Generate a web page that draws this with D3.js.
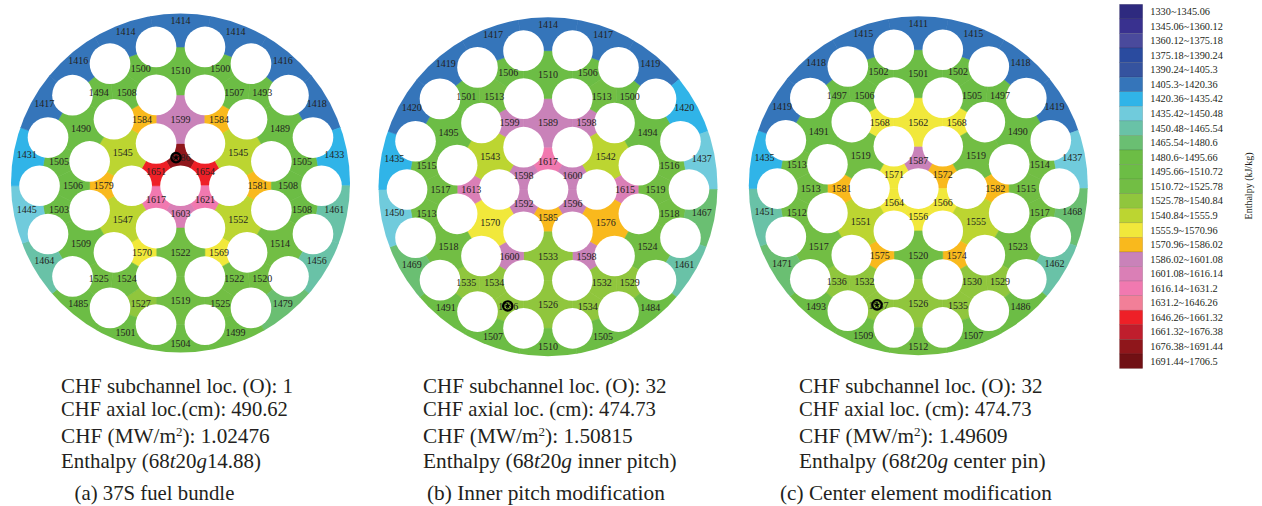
<!DOCTYPE html>
<html>
<head>
	<meta charset="utf-8">
	<title>Enthalpy in 37-element bundles</title>
	<style>
		body { margin: 0; background: #fff; }
		svg { display: block; font-family: "Liberation Serif", serif; fill: #231f20; }
	</style>
</head>
<body>
	<svg width="1262" height="506"></svg>
	<script src="https://cdn.jsdelivr.net/npm/d3@7"></script>
	<script>
		// subchannel enthalpy, each list runs clockwise from 12 o'clock
		// 1420.4 and 1570.9 print rounded but fall into the lower/upper bin like the picture
		const outerA = [1414, 1414, 1416, 1418, 1433, 1461, 1456, 1479, 1499, 1504, 1501, 1485, 1464, 1445, 1431, 1417, 1416, 1414]
		const gap3A = [1510, 1500, 1507, 1493, 1489, 1505, 1508, 1508, 1514, 1520, 1522, 1525, 1519, 1527, 1524, 1525, 1509, 1503, 1506, 1505, 1490, 1494, 1508, 1500]
		const gap2A = [1599, 1584, 1545, 1581, 1552, 1569, 1522, 1570, 1547, 1579, 1545, 1584]
		const innerA = [1686, 1654, 1621, 1603, 1617, 1651]

		const outerB = [1414, 1417, 1419, 1420.4, 1437, 1467, 1461, 1484, 1505, 1510, 1507, 1491, 1469, 1450, 1435, 1420, 1419, 1417]
		const gap3B = [1510, 1506, 1513, 1500, 1494, 1516, 1519, 1518, 1524, 1529, 1532, 1534, 1526, 1536, 1534, 1535, 1518, 1513, 1517, 1515, 1495, 1501, 1513, 1506]
		const gap2B = [1589, 1598, 1542, 1615, 1576, 1598, 1533, 1600, 1570, 1613, 1543, 1599]
		const innerB = [1617, 1600, 1596, 1585, 1592, 1598]

		const outerC = [1411, 1415, 1418, 1419, 1437, 1468, 1462, 1486, 1507, 1512, 1509, 1493, 1471, 1451, 1435, 1419, 1418, 1415]
		const gap3C = [1501, 1502, 1505, 1497, 1490, 1514, 1515, 1517, 1523, 1529, 1530, 1535, 1526, 1537, 1532, 1536, 1517, 1512, 1513, 1513, 1491, 1497, 1506, 1502]
		const gap2C = [1562, 1568, 1519, 1582, 1555, 1574, 1520, 1575, 1551, 1581, 1519, 1568]
		const innerC = [1587, 1572, 1566, 1556, 1564, 1570.9]

		const legendLabels = ["1330~1345.06", "1345.06~1360.12", "1360.12~1375.18", "1375.18~1390.24", "1390.24~1405.3",
			"1405.3~1420.36", "1420.36~1435.42", "1435.42~1450.48", "1450.48~1465.54", "1465.54~1480.6",
			"1480.6~1495.66", "1495.66~1510.72", "1510.72~1525.78", "1525.78~1540.84", "1540.84~1555.9",
			"1555.9~1570.96", "1570.96~1586.02", "1586.02~1601.08", "1601.08~1616.14", "1616.14~1631.2",
			"1631.2~1646.26", "1646.26~1661.32", "1661.32~1676.38", "1676.38~1691.44", "1691.44~1706.5"]
		const legendColors = ["#2e2a7f", "#39318f", "#4a4a9c", "#2a4b9f", "#35539f",
			"#3575ba", "#30b4e8", "#70cbdc", "#69c2a7", "#6abf72",
			"#6cbd45", "#6cbd45", "#72be44", "#90c63d", "#bcd531",
			"#f1e83b", "#f9b91d", "#c982b9", "#da7fb6", "#f179b0",
			"#f27f98", "#ee2027", "#bf1e2d", "#8f161b", "#711014"]

		const captionA = ["CHF subchannel loc. (O): 1", "CHF axial loc.(cm): 490.62", "CHF (MW/m2): 1.02476", "Enthalpy (68t20g14.88)"]
		const captionB = ["CHF subchannel loc. (O): 32", "CHF axial loc. (cm): 474.73", "CHF (MW/m2): 1.50815", "Enthalpy (68t20g inner pitch)"]
		const captionC = ["CHF subchannel loc. (O): 32", "CHF axial loc. (cm): 474.73", "CHF (MW/m2): 1.49609", "Enthalpy (68t20g center pin)"]

		const panels = [
			{ outer: outerA, gap3: gap3A, gap2: gap2A, inner: innerA, caption: captionA, sub: "(a) 37S fuel bundle",
				cx: 180.5, cy: 183, textX: 61, subX: 74.5, widths: [232, 227, 209, 200], subW: 160, hot: ["inner", 0], hotDx: -4.5, hotDy: 0 },
			{ outer: outerB, gap3: gap3B, gap2: gap2B, inner: innerB, caption: captionB, sub: "(b) Inner pitch modification",
				cx: 548, cy: 186.7, textX: 423, subX: 427, widths: [243.7, 233, 210, 253.7], subW: 238, hot: ["gap3", 13], hotDx: -0.5, hotDy: -0.8 },
			{ outer: outerC, gap3: gap3C, gap2: gap2C, inner: innerC, caption: captionC, sub: "(c) Center element modification",
				cx: 918.3, cy: 185.8, textX: 799, subX: 780, widths: [243.7, 232.7, 209, 246.7], subW: 272, hot: ["gap3", 13], hotDx: -1.5, hotDy: -1 }
		]

		// bundle geometry in mm, pixels come from the scale
		const rSc = d3.scaleLinear().domain([0, 51.7]).range([0, 169.5])
		const ring1 = 14.9, ring2 = 28.7, ring3 = 43, rodR = 6.2, rodShift = 0.85

		const color = d3.scaleQuantize().domain([1330, 1706.5]).range(legendColors)
		const rad = a => a * Math.PI / 180
		const pt = (a, r) => d3.pointRadial(rad(a), rSc(r))

		const rods = [[0, 0]]
			.concat(d3.range(6).map(i => pt(30 + 60 * i, ring1)))
			.concat(d3.range(12).map(i => pt(15 + 30 * i, ring2)))
			.concat(d3.range(18).map(i => pt(10 + 20 * i, ring3)))

		// polygons between rod centres, same order as the value lists
		function channelShapes() {
			let shapes = { inner: [], gap2: [], gap3: [], outer: [] }
			d3.range(6).forEach(i => {
				let b = 60 * i
				shapes.inner.push([[0, 0], pt(b - 30, ring1), pt(b + 30, ring1)])
			})
			d3.range(12).forEach(i => {
				let c = 30 * i
				if (i % 2 == 0) shapes.gap2.push([pt(c - 30, ring1), pt(c - 15, ring2), pt(c + 15, ring2), pt(c + 30, ring1)])
				else shapes.gap2.push([pt(c, ring1), pt(c - 15, ring2), pt(c + 15, ring2)])
			})
			d3.range(6).forEach(i => {
				let b = 60 * i
				shapes.gap3.push([pt(b - 15, ring2), pt(b - 10, ring3), pt(b + 10, ring3), pt(b + 15, ring2)])
				shapes.gap3.push([pt(b + 15, ring2), pt(b + 10, ring3), pt(b + 30, ring3)])
				shapes.gap3.push([pt(b + 15, ring2), pt(b + 30, ring3), pt(b + 45, ring2)])
				shapes.gap3.push([pt(b + 45, ring2), pt(b + 30, ring3), pt(b + 50, ring3)])
			})
			d3.range(18).forEach(i => {
				let c = 20 * i
				shapes.outer.push([pt(c - 10, ring3), pt(c - 10, 70), pt(c + 10, 70), pt(c + 10, ring3)])
			})
			return shapes
		}
		const shapes = channelShapes()
		const line = d3.line().curve(d3.curveLinearClosed)
		const svg = d3.select("svg")
		const rows = ["inner", "gap2", "gap3", "outer"]
		const markerStar = d3.symbol().type(d3.symbolStar).size(14)

		// stretch a caption line to the width it has in the picture
		function fitText(txt, w) {
			let now = txt.node().getComputedTextLength()
			txt.attr("font-size", +txt.attr("font-size") * w / now)
		}

		panels.forEach((p, n) => {
			svg.append("clipPath").attr("id", "disc" + n)
				.append("circle").attr("r", rSc(51.7))
			let g = svg.append("g").attr("transform", `translate(${p.cx},${p.cy})`)
			let body = g.append("g").attr("clip-path", `url(#disc${n})`)
			// rods sit a little below the disc centre in the drawing
			let inside = body.append("g").attr("transform", `translate(0,${rSc(rodShift)})`)

			rows.forEach(row => {
				inside.selectAll("path." + row).data(p[row]).enter().append("path")
					.attr("class", row)
					.attr("d", (d, i) => line(shapes[row][i]))
					.attr("fill", d => color(d))
					.attr("stroke", d => color(d))
					.attr("stroke-width", 0.6)
			})
			inside.selectAll("circle").data(rods).enter().append("circle")
				.attr("cx", d => d[0]).attr("cy", d => d[1])
				.attr("r", rSc(rodR)).attr("fill", "#fff")

			// labels, the outer ones sit closer to the wall at top and bottom
			let labelPos = (row, i) => {
				if (row == "outer") {
					let c = 20 * i, k = Math.cos(rad(c))
					let q = pt(c, 47.6 + 1.6 * k * k)
					return [q[0], q[1] - 1]
				}
				let q = d3.polygonCentroid(shapes[row][i])
				return [q[0], q[1] + rSc(rodShift)]
			}
			rows.forEach(row => {
				g.selectAll("text." + row).data(p[row]).enter().append("text")
					.attr("class", row)
					.attr("x", (d, i) => labelPos(row, i)[0])
					.attr("y", (d, i) => labelPos(row, i)[1])
					.attr("dy", "0.35em")
					.attr("text-anchor", "middle")
					.attr("font-size", 10)
					.text(d => d3.format("d")(d))
			})

			// CHF location marker
			let m = labelPos(p.hot[0], p.hot[1])
			let mark = g.append("g").attr("transform", `translate(${m[0] + p.hotDx},${m[1] + p.hotDy})`)
			mark.append("circle").attr("r", 4.7).attr("fill", "none").attr("stroke", "#000").attr("stroke-width", 2.2)
			mark.append("path").attr("d", markerStar()).attr("fill", "#000")

			// caption
			let ys = [393, 416, 443, 468]
			p.caption.forEach((t, i) => {
				let txt = svg.append("text").attr("x", p.textX).attr("y", ys[i]).attr("font-size", 20.6)
				if (t.includes("m2")) {
					let parts = t.split("m2")
					txt.append("tspan").text(parts[0] + "m")
					txt.append("tspan").attr("dy", -7).attr("font-size", 13).text("2")
					txt.append("tspan").attr("dy", 7).text(parts[1])
				} else if (t.startsWith("Enthalpy")) {
					let parts = t.split(/(?<=\d)([tg])/)
					parts.forEach(s => {
						txt.append("tspan").attr("font-style", s == "t" || s == "g" ? "italic" : "normal").text(s)
					})
				} else {
					txt.text(t)
				}
				fitText(txt, p.widths[i])
			})
			let subTxt = svg.append("text").attr("x", p.subX).attr("y", 500).attr("font-size", 20).text(p.sub)
			fitText(subTxt, p.subW)
		})

		// legend
		const legendY = d3.scaleBand().domain(legendLabels).range([4.3, 368.5])
		const legend = svg.append("g")
		legend.selectAll("rect").data(legendLabels).enter().append("rect")
			.attr("x", 1119.5).attr("y", d => legendY(d))
			.attr("width", 23.2).attr("height", legendY.bandwidth())
			.attr("fill", (d, i) => legendColors[i])
			.attr("stroke", "#000").attr("stroke-opacity", 0.18).attr("stroke-width", 0.6)
		legend.selectAll("text").data(legendLabels).enter().append("text")
			.attr("x", 1150.3).attr("y", d => legendY(d) + legendY.bandwidth() / 2)
			.attr("dy", "0.33em").attr("font-size", 10.3)
			.text(d => d)
		svg.append("text")
			.attr("transform", "translate(1252,186) rotate(-90)")
			.attr("text-anchor", "middle").attr("font-size", 10)
			.text("Enthalpy (kJ/kg)")
	</script>
</body>
</html>
